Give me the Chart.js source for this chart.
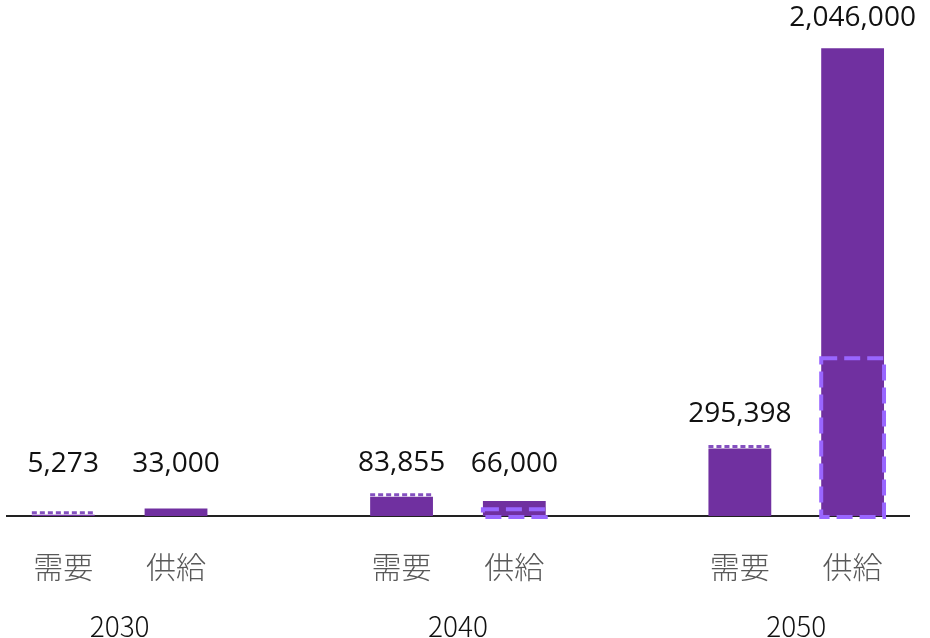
<!DOCTYPE html>
<html lang="ja">
  <head>
    <meta charset="UTF-8" />
    <script src="https://cdn.jsdelivr.net/npm/chart.js@4"></script>
    <title>需要と供給</title>
    <style>
      body { margin: 0; background: #fff; }
      #wrap { width: 930px; height: 638px; }
    </style>
  </head>
  <body>
    <div id="wrap"><canvas id="myChart"></canvas></div>

    <script>
      // blank slots keep the gap between year groups
      const subLabels = ["需要", "供給", "", "需要", "供給", "", "需要", "供給"];
      const years = ["2030", "2040", "2050"];
      const values = [5273, 33000, null, 83855, 66000, null, 295398, 2046000];
      // dashed outline boxes on the supply bars
      const supplyOutline = [null, null, null, null, 30000, null, null, 690000];

      const purple = "#7030a0";
      const dashPurple = "#9966ff";

      const barDecor = {
        id: "barDecor",
        afterDatasetsDraw(chart) {
          const ctx = chart.ctx;
          const main = chart.getDatasetMeta(0).data;
          const outline = chart.getDatasetMeta(1).data;
          ctx.save();

          // short dashed strip on top of demand bars
          main.forEach((el, i) => {
            if (values[i] == null || subLabels[i] !== "需要") return;
            const w = el.width;
            ctx.strokeStyle = "#8450c0";
            ctx.lineWidth = 3;
            ctx.setLineDash([5, 3]);
            ctx.beginPath();
            ctx.moveTo(el.x - w / 2, el.y - 2);
            ctx.lineTo(el.x + w / 2, el.y - 2);
            ctx.stroke();
          });

          // dashed boxes
          outline.forEach((el, i) => {
            if (supplyOutline[i] == null) return;
            const w = el.width;
            ctx.strokeStyle = dashPurple;
            ctx.lineWidth = 4;
            ctx.setLineDash([16, 7]);
            ctx.strokeRect(el.x - w / 2, el.y, w, el.base - el.y + 1);
          });
          ctx.setLineDash([]);

          // value labels
          ctx.fillStyle = "#111";
          ctx.font = "28px 'Open Sans', sans-serif";
          ctx.textAlign = "center";
          ctx.textBaseline = "middle";
          main.forEach((el, i) => {
            if (values[i] == null) return;
            let top = el.y;
            if (subLabels[i] === "需要") top -= 4;
            const y = Math.min(top - 30, 464);
            ctx.fillText(values[i].toLocaleString("en-US"), el.x, y);
          });
          ctx.restore();
        }
      };

      const ctx = document.getElementById("myChart").getContext("2d");
      const chart = new Chart(ctx, {
        type: "bar",
        data: {
          labels: subLabels,
          datasets: [
            {
              label: "値",
              data: values,
              backgroundColor: purple,
              borderWidth: 0,
              barPercentage: 0.557,
              categoryPercentage: 1
            },
            {
              label: "枠",
              data: supplyOutline,
              backgroundColor: "rgba(0,0,0,0)",
              borderWidth: 0,
              barPercentage: 0.557,
              categoryPercentage: 1
            }
          ]
        },
        options: {
          responsive: true,
          maintainAspectRatio: false,
          animation: false,
          layout: { padding: { top: 13, left: 4, right: 21, bottom: 0 } },
          plugins: {
            legend: { display: false },
            tooltip: { enabled: false }
          },
          datasets: { bar: { grouped: false } },
          scales: {
            y: {
              display: false,
              min: 0,
              max: 2200000
            },
            x: {
              position: "bottom",
              grid: { display: false, drawTicks: false },
              border: { display: true, color: "#222", width: 2 },
              ticks: {
                autoSkip: false,
                maxRotation: 0,
                padding: 33,
                color: "#595959",
                font: { family: "'Noto Sans CJK JP', sans-serif", size: 30, weight: 300 }
              },
              afterFit(scale) {
                scale.height = 76;
              }
            },
            x2: {
              type: "linear",
              position: "bottom",
              offset: false,
              min: -0.5,
              max: 7.5,
              grid: { display: false, drawTicks: false, offset: false },
              border: { display: false },
              afterBuildTicks(scale) {
                scale.ticks = [{ value: 0.5 }, { value: 3.5 }, { value: 6.5 }];
              },
              ticks: {
                padding: 18,
                color: "#111",
                maxRotation: 0,
                font: { family: "'Noto Sans CJK JP', sans-serif", size: 28, weight: 300 },
                callback: (v, i) => years[i]
              },
              afterFit(scale) {
                scale.height = 46;
              }
            }
          }
        },
        plugins: [barDecor]
      });
    </script>
  </body>
</html>
